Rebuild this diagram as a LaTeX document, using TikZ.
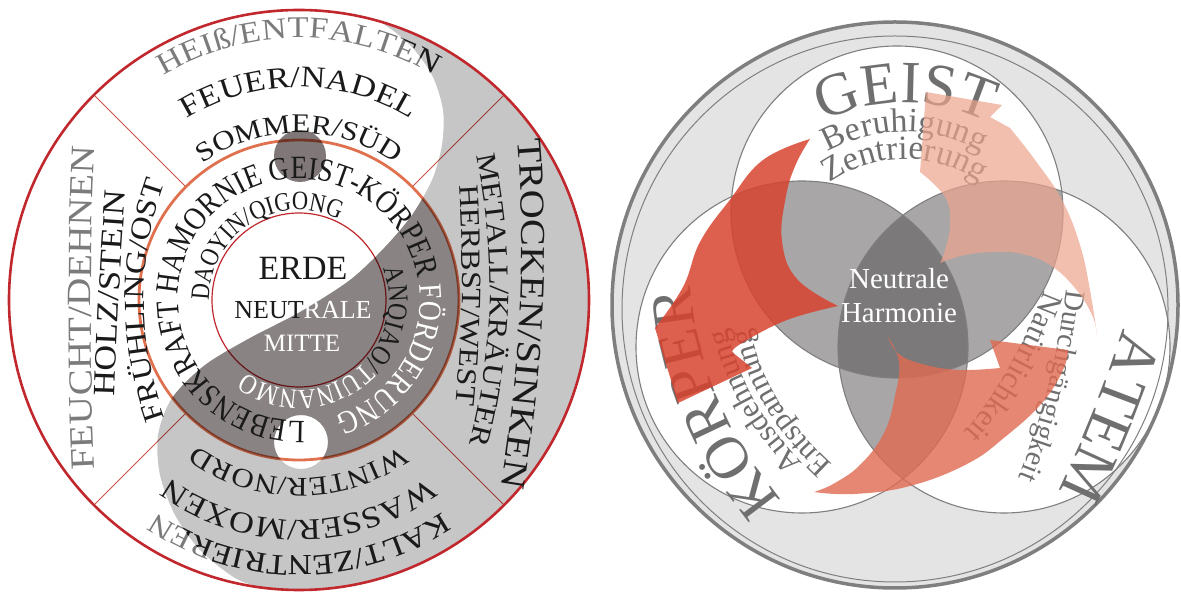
\documentclass[tikz,border=0pt]{standalone}
\usepackage{fontspec}
\setmainfont{Liberation Serif}
\newfontfamily\wideserif[FakeStretch=1.15]{Liberation Serif}
\newfontfamily\slimserif[FakeStretch=0.85]{Liberation Serif}
\usetikzlibrary{calc,decorations.text}

\definecolor{ringred}{HTML}{C0282D}
\definecolor{ringorange}{HTML}{E0714F}
\definecolor{sectorred}{HTML}{C8524A}
\definecolor{inkgrey}{HTML}{7B7B7B}
\definecolor{inkblack}{HTML}{1A1A1A}
\definecolor{yylight}{HTML}{C6C6C6}
\definecolor{yydark}{HTML}{B1A9A9}
\definecolor{yydot}{HTML}{807878}
\definecolor{ballfill}{HTML}{E4E4E4}
\definecolor{ballline}{HTML}{7F7F7F}
\definecolor{lensgrey}{HTML}{A8A6A7}
\definecolor{coregrey}{HTML}{7B797A}
\definecolor{wordgrey}{HTML}{6F6F6F}
\definecolor{arrowred}{HTML}{D8432F}
\definecolor{arrowpink}{HTML}{EDA48E}
\definecolor{arroworange}{HTML}{E06A50}

% text on a circular arc: format, centre, radius, start, end, text
\newcommand{\ringtext}[6]{%
  \path[decorate,decoration={text along path,text align=center,text={|#1|#6}}]
    ($(#2)+(#4:#3)$) arc[start angle=#4,end angle=#5,radius=#3];}
% text on a bow through three points: format, start, middle, end, text
\newcommand{\bowtext}[5]{%
  \coordinate (ta) at #2; \coordinate (tm) at #3; \coordinate (tb) at #4;
  \coordinate (tq) at ($2*(tm)-0.5*(ta)-0.5*(tb)$);
  \path[decorate,decoration={text along path,text align=center,text={|#1|#5}}]
    (ta) .. controls ($(ta)!2/3!(tq)$) and ($(tb)!2/3!(tq)$) .. (tb);}
% dark half of the yin-yang
\newcommand{\yinyang}{plot[smooth] coordinates {(352,579) (380,572) (410,549) (432,519)
  (443,484) (442,449) (432,414) (412,379) (385,347) (350,314) (300,282) (250,256)
  (205,229) (172,196) (158,159) (160,119) (175,79) (200,44) (235,16) (262,6)}
  arc[start angle=262.7,end angle=439.5,radius=290pt] -- cycle}

\begin{document}
\begin{tikzpicture}[x=1pt,y=1pt,
    sectorline/.style={draw=sectorred,line width=0.9pt},
    venn/.style={draw=ballline,line width=1.1pt},
  ]
  \useasboundingbox (0,0) rectangle (1181,594);

  % ---------------- left: five phases ----------------
  \coordinate (L) at (299,294);

  % rings and sector borders
  \foreach \a in {45,135,225,315}
    \draw[sectorline] ($(L)+(\a:160pt)$) -- ($(L)+(\a:290pt)$);
  \draw[draw=ringorange,line width=2.8pt] (L) circle[radius=160pt];
  \draw[draw=ringred,line width=1.2pt] (L) circle[radius=87pt];

  % yin-yang overlay
  \begin{scope}[blend mode=multiply]
    \fill[yylight,even odd rule] \yinyang (301,152) circle[radius=27pt];
    \begin{scope}
      \clip (L) circle[radius=160pt];
      \fill[yydark,even odd rule] \yinyang (301,152) circle[radius=27pt];
    \end{scope}
    \fill[yydot] (300,438) circle[radius=26pt];
  \end{scope}
  \draw[draw=ringred,line width=2.6pt] (L) circle[radius=290pt];

  % top sector
  \ringtext{\wideserif\fontsize{30}{30}\selectfont\color{inkgrey}}{L}{262pt}{150}{30}{HEIß/ENTFALTEN}
  \ringtext{\wideserif\fontsize{30}{30}\selectfont\color{inkblack}}{L}{213pt}{150}{30}{FEUER/NADEL}
  \ringtext{\wideserif\fontsize{27}{27}\selectfont\color{inkblack}}{L}{167pt}{150}{30}{SOMMER/SÜD}
  % bottom sector
  \ringtext{\wideserif\fontsize{29}{29}\selectfont\color{inkgrey}}{L}{256pt}{-30}{-150}{KALT/ZENTRIEREN}
  \ringtext{\wideserif\fontsize{30}{30}\selectfont\color{inkblack}}{L}{220pt}{-30}{-150}{WASSER/MOXEN}
  \ringtext{\wideserif\fontsize{27}{27}\selectfont\color{inkblack}}{L}{178pt}{-30}{-150}{WINTER/NORD}
  % left sector
  \bowtext{\wideserif\fontsize{34}{34}\selectfont\color{inkgrey}}{(98,68)}{(91,286)}{(98,504)}{FEUCHT/DEHNEN}
  \bowtext{\wideserif\fontsize{31}{31}\selectfont\color{inkblack}}{(114,170)}{(119,300)}{(128,430)}{HOLZ/STEIN}
  \bowtext{\wideserif\fontsize{29}{29}\selectfont\color{inkblack}}{(178,144)}{(144,294)}{(178,444)}{FRÜHLING/OST}
  % right sector
  \bowtext{\wideserif\fontsize{35}{35}\selectfont\color{inkblack}}{(515,481)}{(520,286)}{(496,81)}{TROCKEN/SINKEN}
  \bowtext{\wideserif\fontsize{28}{28}\selectfont\color{inkblack}}{(470,464)}{(490,294)}{(462,124)}{METALL/KRÄUTER}
  \bowtext{\wideserif\fontsize{28}{28}\selectfont\color{inkblack}}{(455,459)}{(462,299)}{(450,139)}{HERBST/WEST}

  % outer words inside the dark half turn black
  \begin{scope}
    \clip \yinyang;
    \ringtext{\wideserif\fontsize{30}{30}\selectfont\color{inkblack}}{L}{262pt}{150}{30}{HEIß/ENTFALTEN}
    \ringtext{\wideserif\fontsize{29}{29}\selectfont\color{inkblack}}{L}{256pt}{-30}{-150}{KALT/ZENTRIEREN}
  \end{scope}

  % inner ring
  \ringtext{\slimserif\fontsize{32.5}{32.5}\selectfont\color{inkblack}}{L}{121pt}{280}{-80}{LEBENSKRAFT HAMORNIE GEIST-KÖRPER |\slimserif\fontsize{32.5}{32.5}\selectfont\color{white}|FÖRDERUNG}
  \ringtext{\slimserif\fontsize{26.5}{26.5}\selectfont\color{inkblack}}{L}{90pt}{212}{32}{DAOYIN/QIGONG}
  \ringtext{\slimserif\fontsize{28}{28}\selectfont\color{inkblack}}{L}{90pt}{37}{-143}{ANQIAO/|\slimserif\fontsize{28}{28}\selectfont\color{white}|TUINANMO}

  % centre
  \node[text=inkblack,font=\fontsize{34}{34}\selectfont] (erde) at (303,326) {ERDE};
  \node[text=inkblack,font=\fontsize{26}{26}\selectfont] (neutrale) at (303,284) {NEUT\textcolor{white}{RALE}};
  \node[text=white,font=\fontsize{25}{25}\selectfont] (mitte) at (302,251) {MITTE};

  % ---------------- right: three circles ----------------
  \coordinate (B) at (895,289);
  \coordinate (G) at (897,382);
  \coordinate (K) at (802,247);
  \coordinate (A) at (1004,247);
  \coordinate (gc) at (905,305);

  \fill[ballfill] (B) circle[radius=283pt];
  \fill[white] (G) circle[radius=166pt] (K) circle[radius=166pt] (A) circle[radius=166pt];
  \begin{scope}
    \clip (G) circle[radius=166pt];
    \fill[lensgrey] (K) circle[radius=166pt] (A) circle[radius=166pt];
  \end{scope}
  \begin{scope}
    \clip (K) circle[radius=166pt];
    \fill[lensgrey] (A) circle[radius=166pt];
  \end{scope}
  \begin{scope}
    \clip (G) circle[radius=166pt];
    \clip (K) circle[radius=166pt];
    \fill[coregrey] (A) circle[radius=166pt];
  \end{scope}
  \draw[venn] (G) circle[radius=166pt] (K) circle[radius=166pt] (A) circle[radius=166pt];
  \draw[ballline,line width=1pt] (895,285) circle[radius=273pt];
  \draw[ballline,line width=3.5pt] (B) circle[radius=283pt];

  % words
  \ringtext{\fontsize{60}{60}\selectfont\color{wordgrey}}{gc}{186pt}{135}{45}{GEIST}
  \ringtext{\fontsize{34}{34}\selectfont\color{wordgrey}}{gc}{157pt}{135}{45}{Beruhigung}
  \ringtext{\fontsize{34}{34}\selectfont\color{wordgrey}}{gc}{130pt}{140}{40}{Zentrierung}
  \bowtext{\fontsize{60}{60}\selectfont\color{wordgrey}}{(790,84)}{(718,197)}{(690,320)}{KÖRPER}
  \bowtext{\fontsize{31}{31}\selectfont\color{wordgrey}}{(835,100)}{(752,199)}{(722,310)}{Ausdehnung}
  \bowtext{\fontsize{31}{31}\selectfont\color{wordgrey}}{(855,110)}{(775,199)}{(748,295)}{Entspannung}
  \bowtext{\fontsize{62}{62}\selectfont\color{wordgrey}}{(1126,274)}{(1094,184)}{(1054,94)}{ATEM}
  \bowtext{\fontsize{29}{29}\selectfont\color{wordgrey}}{(1070,340)}{(1047,202)}{(1004,84)}{Durchgängigkeit}
  \bowtext{\fontsize{31}{31}\selectfont\color{wordgrey}}{(1056,335)}{(1000,210)}{(938,140)}{Natürlichkeit}

  % swirl arrows
  \fill[arrowred,fill opacity=0.85] (810,455)
    -- plot[smooth,tension=0.7] coordinates {(810,455) (763,434) (729,393) (700,352) (683,307) (655,266)}
    -- (678,191) -- (752,226) -- (732,242)
    -- plot[smooth,tension=0.7] coordinates {(732,242) (742,251) (787,274) (838,288)}
    -- plot[smooth,tension=0.7] coordinates {(838,288) (797,315) (782,353) (786,398) (796,430) (810,455)} -- cycle;
  \fill[arrowpink,fill opacity=0.7] (1097,259)
    -- plot[smooth,tension=0.7] coordinates {(1097,259) (1090,304) (1080,349) (1062,394) (1035,434) (1010,466)}
    -- (990,477) -- (1002,489) -- (926,502) -- (920,422)
    -- plot[smooth,tension=0.7] coordinates {(920,422) (945,397) (950,369) (945,344) (940,331)}
    -- plot[smooth,tension=0.7] coordinates {(940,331) (965,339) (995,342) (1022,340) (1050,329) (1075,306) (1092,279) (1097,259)} -- cycle;
  \fill[arroworange,fill opacity=0.8] (888,257)
    -- plot[smooth,tension=0.7] coordinates {(888,257) (900,239) (930,228) (963,224) (1000,226)}
    -- (990,254) -- (1068,244)
    -- plot[smooth,tension=0.7] coordinates {(1068,244) (1063,224) (1042,191) (1005,157) (967,130) (910,108) (854,100) (814,102)}
    -- plot[smooth,tension=0.7] coordinates {(814,102) (835,111) (861,130) (884,161) (895,198) (899,232) (888,257)} -- cycle;

  \node[text=white,align=center,font=\fontsize{29}{34}\selectfont] (core) at (899,298) {Neutrale\\Harmonie};
\end{tikzpicture}
\end{document}
